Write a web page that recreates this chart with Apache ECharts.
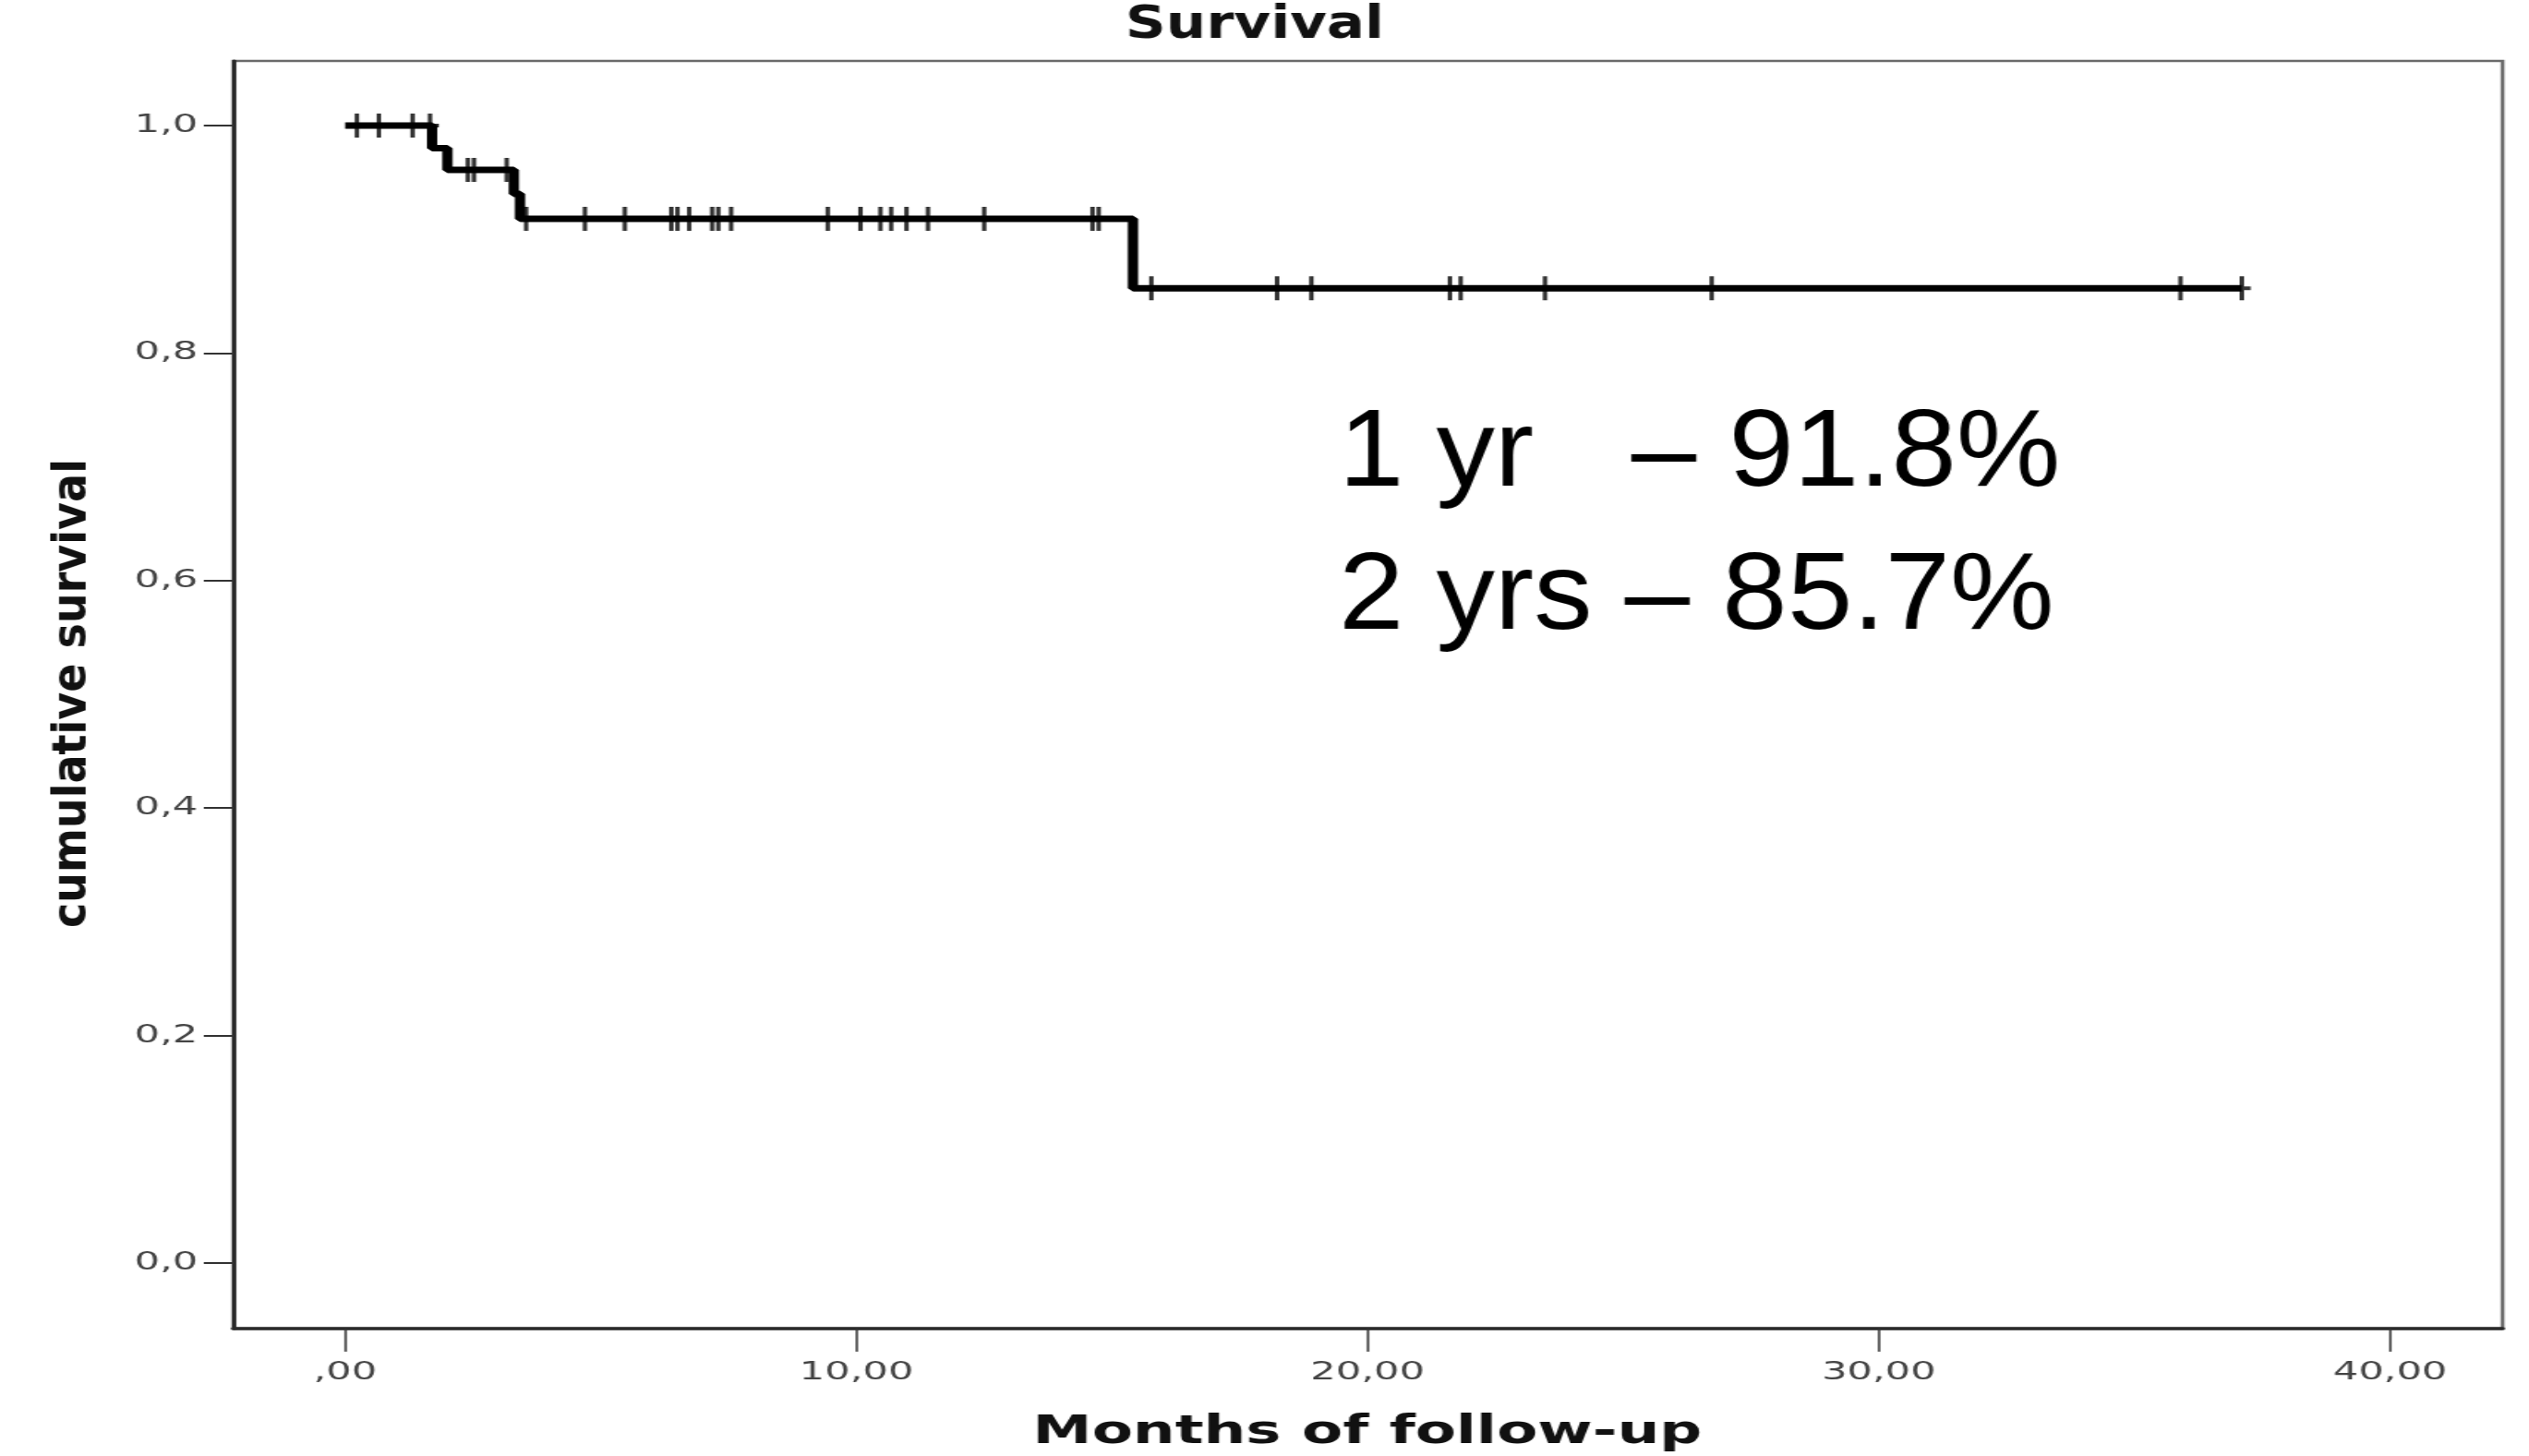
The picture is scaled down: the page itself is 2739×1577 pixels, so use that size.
<!DOCTYPE html>
<html>
<head>
<meta charset="utf-8">
<script src="https://cdn.jsdelivr.net/npm/echarts@6/dist/echarts.min.js"></script>
<style>
html,body{margin:0;padding:0;background:#fff;overflow:hidden;width:2739px;height:1577px;}
#chart{width:1712px;height:1577px;transform:scaleX(1.6);transform-origin:0 0;}
</style>
</head>
<body>
<div id="chart"></div>
<script>
// Kaplan-Meier step function: survival value from each time onward
const stepTimes = [0, 1.70, 2.00, 3.30, 3.42, 15.41, 37.10];
const stepSurv  = [1.000, 0.980, 0.961, 0.940, 0.918, 0.857, 0.857];
// Censored observations (months)
const censorTimes = [0.23, 0.66, 1.32, 1.66, 2.40, 2.52, 3.16, 3.54, 4.69, 5.47,
  6.38, 6.50, 6.73, 7.18, 7.30, 7.55, 9.44, 10.08, 10.47, 10.68, 10.98, 11.40,
  12.50, 14.62, 14.74, 15.77, 18.23, 18.90, 21.61, 21.82, 23.47, 26.73, 35.90, 37.10];
// Axis ticks
const xTickValues = [0, 10, 20, 30, 40];
const xTickLabels = [',00', '10,00', '20,00', '30,00', '40,00'];
const yTickValues = [0, 0.2, 0.4, 0.6, 0.8, 1.0];
const yTickLabels = ['0,0', '0,2', '0,4', '0,6', '0,8', '1,0'];
// Texts
const titleText = 'Survival';
const xName = 'Months of follow-up';
const yName = 'cumulative survival';
const noteLines = ['1 yr   \u2013 91.8%', '2 yrs \u2013 85.7%'];

function survAt(t) {
  let s = stepSurv[0];
  for (let i = 0; i < stepTimes.length; i++) {
    if (stepTimes[i] <= t) s = stepSurv[i];
  }
  return s;
}

const lineData = stepTimes.map((t, i) => [t, stepSurv[i]]);
const censorData = censorTimes.map(t => [t, survAt(t)]);

const chart = echarts.init(document.getElementById('chart'), null, {renderer: 'canvas'});
const plusPath = 'path://M-1.5,-13 H1.5 V-2 H6 V2 H1.5 V13 H-1.5 V2 H-6 V-2 H-1.5 Z';

chart.setOption({
  animation: false,
  backgroundColor: '#ffffff',
  grid: {
    left: 158, right: 18, top: 66, bottom: 138,
    show: true, borderColor: '#6a6a6a', borderWidth: 2.5, backgroundColor: 'transparent'
  },
  xAxis: {
    type: 'value', min: -2.186, max: 42.2,
    axisLine: {show: true, onZero: false, lineStyle: {color: '#2a2a2a', width: 3.5}},
    axisTick: {show: true, inside: false, length: 25, customValues: xTickValues,
      lineStyle: {color: '#333', width: 1.5}},
    axisLabel: {customValues: xTickValues, margin: 34, fontFamily: 'DejaVu Sans',
      fontSize: 27, color: '#444',
      formatter: v => xTickLabels[xTickValues.indexOf(v)] ?? ''},
    splitLine: {show: false}
  },
  yAxis: {
    type: 'value', min: -0.0576, max: 1.0568,
    axisLine: {show: true, onZero: false, lineStyle: {color: '#2a2a2a', width: 3}},
    axisTick: {show: true, inside: false, length: 20, customValues: yTickValues,
      lineStyle: {color: '#333', width: 2}},
    axisLabel: {customValues: yTickValues, margin: 24, fontFamily: 'DejaVu Sans',
      fontSize: 27, color: '#444',
      formatter: v => {
        const i = yTickValues.findIndex(x => Math.abs(x - v) < 1e-9);
        return i >= 0 ? yTickLabels[i] : '';
      }},
    splitLine: {show: false}
  },
  series: [
    {
      type: 'line', data: lineData, step: 'end', symbol: 'none', z: 3,
      lineStyle: {color: '#000', width: 7}
    },
    {
      type: 'scatter', data: censorData, symbol: plusPath, symbolSize: [12, 26], z: 4,
      itemStyle: {color: '#000'}
    }
  ],
  graphic: [
    {type: 'text', x: 849.4, y: 28, scaleX: 0.763, z: 10,
      style: {text: titleText, font: 'bold 50px "DejaVu Sans"', fill: '#111',
        textAlign: 'center', textVerticalAlign: 'middle', verticalAlign: 'middle'}},
    {type: 'text', x: 925.6, y: 1552, scaleX: 0.958, z: 10,
      style: {text: xName, font: 'bold 42px "DejaVu Sans"', fill: '#111',
        textAlign: 'center', textVerticalAlign: 'middle', verticalAlign: 'middle'}},
    {type: 'text', x: 49.4, y: 751, rotation: Math.PI / 2, scaleY: 0.68, z: 10,
      style: {text: yName, font: 'bold 46px "DejaVu Sans"', fill: '#111',
        textAlign: 'center', textVerticalAlign: 'middle', verticalAlign: 'middle'}},
    {type: 'text', x: 906.25, y: 493, scaleX: 0.671, z: 10,
      style: {text: noteLines[0], font: '118px "Liberation Sans"', fill: '#000',
        textAlign: 'left', textVerticalAlign: 'middle', verticalAlign: 'middle'}},
    {type: 'text', x: 906.25, y: 648, scaleX: 0.671, z: 10,
      style: {text: noteLines[1], font: '118px "Liberation Sans"', fill: '#000',
        textAlign: 'left', textVerticalAlign: 'middle', verticalAlign: 'middle'}}
  ]
});
</script>
</body>
</html>
